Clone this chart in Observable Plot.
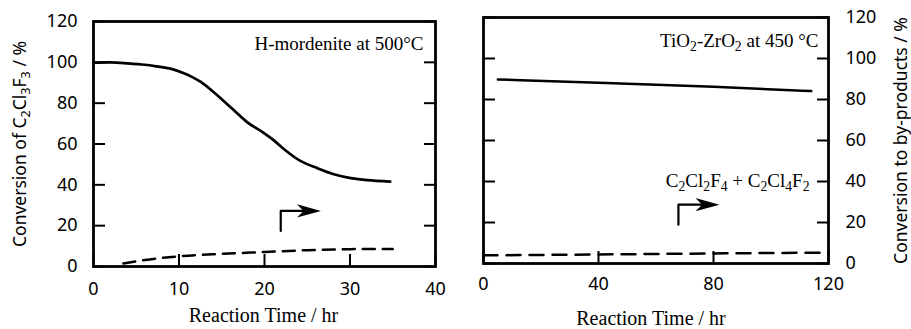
<!DOCTYPE html>
<html><head><meta charset="utf-8">
<script src="https://cdn.jsdelivr.net/npm/d3@7"></script>
<script src="https://cdn.jsdelivr.net/npm/@observablehq/plot@0.6"></script>
<style>
html,body{margin:0;padding:0;background:#fff;}
#wrap{position:relative;width:911px;height:329px;overflow:hidden;}
#wrap svg{position:absolute;top:0;}
</style></head><body><div id="wrap"></div>
<script>
// ---- data ----
// H-mordenite at 500 °C : conversion of C2Cl3F3 (solid)
const hmTime = [0, 2, 4, 6, 7.4, 9, 10.5, 11.5, 12.5, 14, 16.4, 18, 19.9, 21.1, 22.3, 24.2, 26.2, 28.1, 30.1, 32, 34.7];
const hmConv = [99.8, 100, 99.5, 98.8, 98, 96.9, 94.8, 92.9, 90.5, 85.6, 76.6, 70.6, 65.5, 61.8, 57.4, 51.7, 48.1, 45.2, 43.3, 42.3, 41.6];
// H-mordenite : conversion to by-products (dashed)
const hmByTime = [3.5, 6, 10, 15, 20, 25, 30, 35];
const hmByConv = [1.5, 3.2, 5, 6.2, 7.1, 8, 8.5, 8.6];
// TiO2-ZrO2 at 450 °C : conversion of C2Cl3F3 (solid)
const tzTime = [5, 40, 80, 114];
const tzConv = [89.8, 88.2, 86.2, 84.1];
// TiO2-ZrO2 : conversion to by-products (dashed)
const tzByTime = [0, 40, 80, 120];
const tzByConv = [4, 4.4, 4.9, 5.3];
// elbow arrows (data units)
const hmArrowTime = [21.9, 21.9, 25.2];
const hmArrowConv = [17.4, 27.2, 27.2];
const tzArrowTime = [67.8, 67.8, 77.9];
const tzArrowConv = [18.9, 28.7, 28.7];
// ticks
const hmXTicks = [0, 10, 20, 30, 40];
const tzXTicks = [0, 40, 80, 120];
const yTicks = [0, 20, 40, 60, 80, 100, 120];
// texts
const hmLabel = "H-mordenite at 500°C";
const tzLabel = "TiO{2}-ZrO{2} at 450 °C";
const byLabel = "C{2}Cl{2}F{4} + C{2}Cl{4}F{2}";
const yLeftTitle = "Conversion of C{2}Cl{3}F{3} / %";
const yRightTitle = "Conversion to by-products / %";
const xTitle = "Reaction Time / hr";

const zip = (xs, ys) => xs.map((t, i) => ({t, v: ys[i]}));
const serif = "'Liberation Serif', 'Times New Roman', serif";
const sans = "'Noto Sans', 'Open Sans', sans-serif";

const headSymbol = {
  draw(ctx, size) {
    const r = Math.sqrt(size / Math.PI);
    ctx.moveTo(r, 0);
    ctx.lineTo(-r, -0.55 * r);
    ctx.lineTo(-0.45 * r, 0);
    ctx.lineTo(-r, 0.55 * r);
    ctx.closePath();
  }
};

function arrowMarks(ts, vs) {
  const pts = zip(ts, vs);
  return [
    Plot.line(pts, {x: "t", y: "v", stroke: "black", strokeWidth: 2.2}),
    Plot.dot([pts[pts.length - 1]], {x: "t", y: "v", symbol: headSymbol, r: 12, fill: "black", stroke: "none"})
  ];
}

const left = Plot.plot({
  width: 455, height: 329,
  marginLeft: 93, marginRight: 20, marginTop: 21, marginBottom: 63,
  x: {domain: [0, 40], label: null},
  y: {domain: [0, 120], label: null},
  style: {fontFamily: sans, fontSize: "18px", color: "#000", background: "transparent", overflow: "visible"},
  marks: [
    Plot.axisY(yTicks, {anchor: "left", tickSize: -12, tickPadding: 28, strokeWidth: 2, label: null, fontSize: 18}),
    Plot.axisY(yTicks, {anchor: "right", tickSize: -12, tickFormat: () => "", strokeWidth: 2, label: null}),
    Plot.axisX(hmXTicks, {anchor: "bottom", tickSize: -12, tickPadding: 28, strokeWidth: 2, label: null, fontSize: 18}),
    Plot.frame({stroke: "black", strokeWidth: 2.8}),
    Plot.line(zip(hmTime, hmConv), {x: "t", y: "v", stroke: "black", strokeWidth: 2.7, curve: "catmull-rom"}),
    Plot.line(zip(hmByTime, hmByConv), {x: "t", y: "v", stroke: "black", strokeWidth: 2.5, strokeDasharray: "12,8", curve: "monotone-x"}),
    ...arrowMarks(hmArrowTime, hmArrowConv),
    Plot.text([hmLabel], {x: () => 38.6, y: () => 108.8, textAnchor: "end", fontFamily: serif, fontSize: 19}),
    Plot.text([yLeftTitle], {frameAnchor: "left", dx: -73, rotate: -90, textAnchor: "middle", lineAnchor: "middle", fontFamily: sans, fontSize: 17.5}),
    Plot.text([xTitle], {frameAnchor: "bottom", dy: 49, dx: -1, textAnchor: "middle", lineAnchor: "middle", fontFamily: serif, fontSize: 20})
  ]
});

const right = Plot.plot({
  width: 456, height: 329,
  marginLeft: 28, marginRight: 83, marginTop: 17, marginBottom: 66,
  x: {domain: [0, 120], label: null},
  y: {domain: [0, 120], label: null},
  style: {fontFamily: sans, fontSize: "18px", color: "#000", background: "transparent", overflow: "visible"},
  marks: [
    Plot.axisY(yTicks, {anchor: "left", tickSize: -12, tickFormat: () => "", strokeWidth: 2, label: null}),
    Plot.axisY(yTicks, {anchor: "right", tickSize: -12, tickPadding: 29, strokeWidth: 2, label: null, fontSize: 18, textAnchor: "start"}),
    Plot.axisX(tzXTicks, {anchor: "bottom", tickSize: -12, tickPadding: 26, strokeWidth: 2, label: null, fontSize: 18}),
    Plot.frame({stroke: "black", strokeWidth: 2.8}),
    Plot.line(zip(tzTime, tzConv), {x: "t", y: "v", stroke: "black", strokeWidth: 2.5, curve: "monotone-x"}),
    Plot.line(zip(tzByTime, tzByConv), {x: "t", y: "v", stroke: "black", strokeWidth: 2.5, strokeDasharray: "14,9", curve: "monotone-x"}),
    ...arrowMarks(tzArrowTime, tzArrowConv),
    Plot.text([tzLabel], {x: () => 116.5, y: () => 108.8, textAnchor: "end", fontFamily: serif, fontSize: 19}),
    Plot.text([byLabel], {x: () => 113.4, y: () => 40.3, textAnchor: "end", fontFamily: serif, fontSize: 19}),
    Plot.text([yRightTitle], {frameAnchor: "right", dx: 73, rotate: -90, textAnchor: "middle", lineAnchor: "middle", fontFamily: sans, fontSize: 17.5}),
    Plot.text([xTitle], {frameAnchor: "bottom", dy: 55, dx: -5, textAnchor: "middle", lineAnchor: "middle", fontFamily: serif, fontSize: 20})
  ]
});

// chemical subscripts: "{n}" -> lowered, smaller tspan
function applySubs(svg) {
  d3.select(svg).selectAll("text").each(function() {
    const s = this.textContent;
    if (!s.includes("{")) return;
    const el = d3.select(this);
    el.text(null);
    let shifted = false;
    for (const part of s.split(/(\{[^}]*\})/)) {
      if (!part) continue;
      const m = part.match(/^\{([^}]*)\}$/);
      if (m) {
        el.append("tspan").attr("font-size", "72%").attr("dy", shifted ? null : "0.32em").text(m[1]);
        shifted = true;
      } else {
        const ts = el.append("tspan").text(part);
        if (shifted) ts.attr("dy", "-0.23em");
        shifted = false;
      }
    }
  });
}
applySubs(left);
applySubs(right);

left.style.left = "0px";
right.style.left = "455px";
document.getElementById("wrap").append(left, right);
</script>
</body></html>
